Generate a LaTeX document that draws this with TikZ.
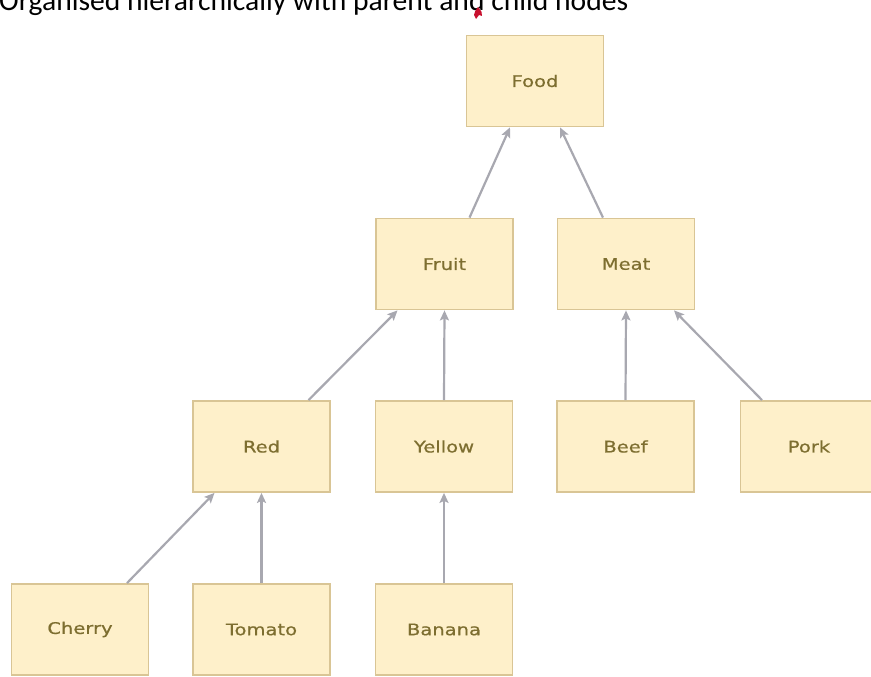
\documentclass[tikz,border=0pt]{standalone}
\usepackage{fontspec}
\setmainfont{DejaVu Sans}
\newfontfamily\lblfont[FakeStretch=1.22,FakeBold=0.6]{DejaVu Sans}
\newfontfamily\titlefont{Carlito}
\usetikzlibrary{arrows.meta}
\definecolor{boxfill}{HTML}{FEF0CA}
\definecolor{boxline}{HTML}{D9C595}
\definecolor{boxtext}{HTML}{7D6E30}
\definecolor{edgecol}{HTML}{A8A8B0}
\definecolor{markred}{HTML}{C8102E}
\begin{document}
\begin{tikzpicture}[x=1pt,y=-1pt,
  cat/.style={draw=boxline,line width=1.8pt,fill=boxfill,minimum width=137pt,minimum height=91pt,inner sep=0pt,
    font=\lblfont\fontsize{16}{18}\selectfont,text=boxtext},
  link/.style={draw=edgecol,line width=2.2pt,-{Stealth[length=10pt,width=9pt,inset=2pt]}}]
\useasboundingbox (0,0) rectangle (871,677);
\clip (0,0) rectangle (871,677);
\fill[white] (0,0) rectangle (871,677);
\node[anchor=base west,inner sep=0pt,font=\titlefont\fontsize{29.6}{32}\selectfont] (title) at (-1,11) {Organised hierarchically with parent and child nodes};
\fill[markred] (478,7) .. controls (481,11) and (483,13) .. (482,16) -- (479,15) -- (476,19) -- (474,15) .. controls (474,12) and (476,10) .. (478,7) -- cycle;
\node[cat] (food) at (535,81) {Food};
\node[cat] (fruit) at (444.5,264) {Fruit};
\node[cat] (meat) at (626,264) {Meat};
\node[cat] (red) at (261.5,446.5) {Red};
\node[cat] (yellow) at (444,446.5) {Yellow};
\node[cat] (beef) at (625.5,446.5) {Beef};
\node[cat] (pork) at (809,446.5) {Pork};
\node[cat] (cherry) at (80,629.5) {Cherry};
\node[cat] (tomato) at (261.5,629.5) {Tomato};
\node[cat] (banana) at (444,629.5) {Banana};
\draw[link] ([xshift=25pt]fruit.north) -- ([xshift=-25pt]food.south);
\draw[link] ([xshift=-23pt]meat.north) -- ([xshift=25pt]food.south);
\draw[link] ([xshift=47pt]red.north) -- ([xshift=-47pt]fruit.south);
\draw[link] (yellow.north) -- (fruit.south);
\draw[link] (beef.north) -- (meat.south);
\draw[link] ([xshift=-47pt]pork.north) -- ([xshift=48pt]meat.south);
\draw[link] ([xshift=47pt]cherry.north) -- ([xshift=-47pt]red.south);
\draw[link] (tomato.north) -- (red.south);
\draw[link] (banana.north) -- (yellow.south);
\end{tikzpicture}
\end{document}
